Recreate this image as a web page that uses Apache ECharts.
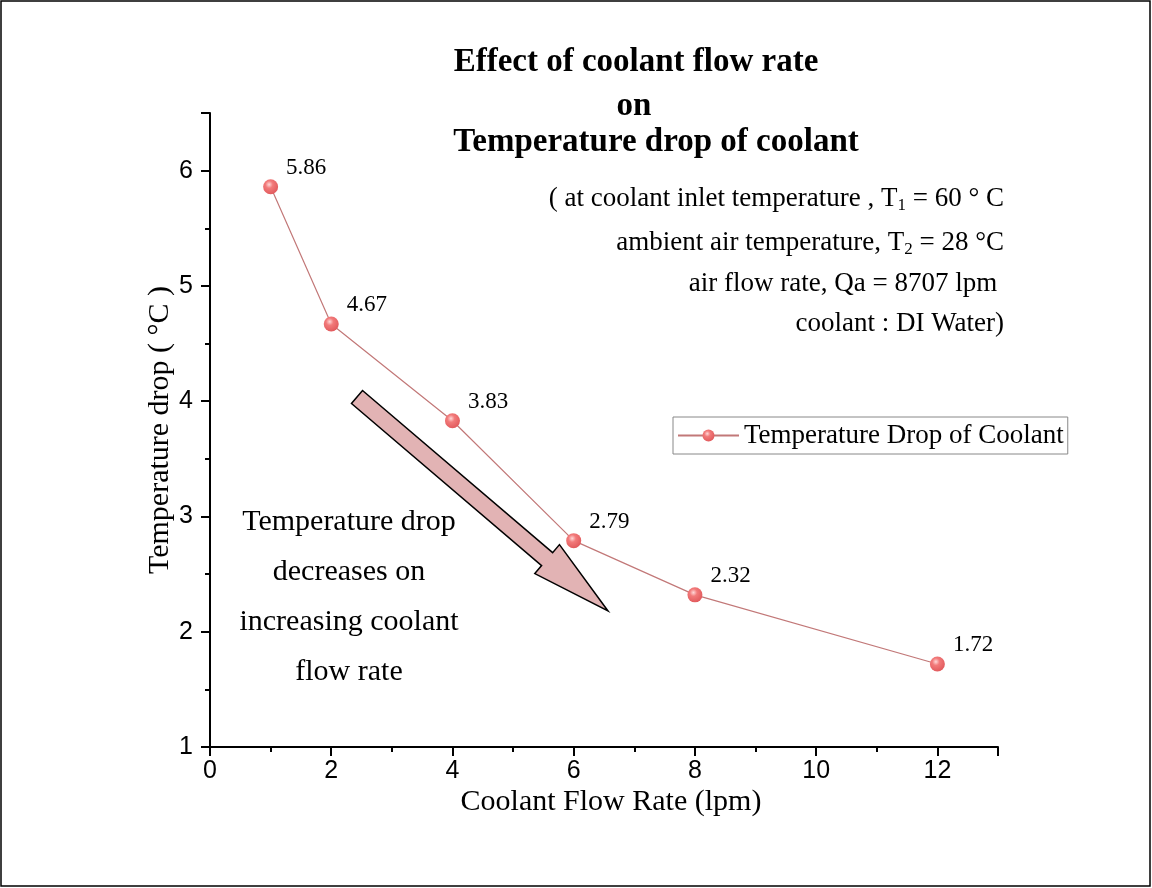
<!DOCTYPE html>
<html><head><meta charset="utf-8">
<script src="https://cdn.jsdelivr.net/npm/echarts@6/dist/echarts.min.js"></script>
<style>html,body{margin:0;padding:0;background:#fff}#c{width:1152px;height:888px}</style>
</head><body><div id="c"></div>
<script>
const flowRates = [1, 2, 4, 6, 8, 12];
const tempDrops = [5.86, 4.67, 3.83, 2.79, 2.32, 1.72];
const seriesName = 'Temperature Drop of Coolant';
const titleLines = ['Effect of coolant flow rate', 'on', 'Temperature drop of coolant'];
const xName = 'Coolant Flow Rate (lpm)';
const yName = 'Temperature drop ( \u00B0C )';
const noteLines = ['Temperature drop', 'decreases on', 'increasing coolant', 'flow rate'];

const serif = '"Liberation Serif", "Times New Roman", serif';
const sans = '"Liberation Sans", Arial, sans-serif';
const chart = echarts.init(document.getElementById('c'));

const ball = {
  type: 'radial', x: 0.4, y: 0.35, r: 0.7,
  colorStops: [{offset: 0, color: '#ffd8d8'}, {offset: 0.35, color: '#f27a7a'}, {offset: 1, color: '#e0575a'}]
};

// arrow polygon (annotation)
const ax0 = 357, ay0 = 397, ax1 = 608, ay1 = 611;
const L = Math.hypot(ax1 - ax0, ay1 - ay0);
const ux = (ax1 - ax0) / L, uy = (ay1 - ay0) / L, px = -uy, py = ux;
const sw = 8.5, hw = 19, hl = 80;
const bx = ax1 - ux * hl, by = ay1 - uy * hl;
const arrowPts = [
  [ax0 + px * sw, ay0 + py * sw], [bx + px * sw, by + py * sw], [bx + px * hw, by + py * hw],
  [ax1, ay1], [bx - px * hw, by - py * hw], [bx - px * sw, by - py * sw], [ax0 - px * sw, ay0 - py * sw]
];

const graphics = [
  {type: 'rect', shape: {x: 1, y: 1, width: 1149, height: 885}, style: {fill: null, stroke: '#000', lineWidth: 1.5}, silent: true},
  {type: 'polygon', shape: {points: arrowPts}, style: {fill: '#e2b3b4', stroke: '#000', lineWidth: 1.5}},
];
const titleX = [636, 634, 656], titleY = [62, 106, 142];
titleLines.forEach((t, i) => graphics.push({
  type: 'text', x: titleX[i], y: titleY[i],
  style: {text: t, font: 'bold 33px ' + serif, fill: '#000', textAlign: 'center', textVerticalAlign: 'middle'}
}));
noteLines.forEach((t, i) => graphics.push({
  type: 'text', x: 349, y: 522 + i * 50,
  style: {text: t, font: '30px ' + serif, fill: '#000', textAlign: 'center', textVerticalAlign: 'middle'}
}));
// condition annotations (rich text for subscripts)
const rich = {
  n: {fontFamily: serif, fontSize: 27, color: '#000', lineHeight: 30},
  s: {fontFamily: serif, fontSize: 17, color: '#000', lineHeight: 30, padding: [14, 0, 0, 0]}
};
const conds = [
  '{n|( at coolant inlet temperature , T}{s|1}{n| = 60 \u00B0 C}',
  '{n|ambient air temperature, T}{s|2}{n| = 28 \u00B0C}',
  '{n|air flow rate, Qa = 8707 lpm }',
  '{n|coolant : DI Water)}'
];
const condY = [199, 243, 284, 324];
conds.forEach((t, i) => graphics.push({
  type: 'text', x: 1004, y: condY[i],
  style: {text: t, rich: rich, textAlign: 'right', textVerticalAlign: 'middle'}
}));

chart.setOption({
  animation: false,
  backgroundColor: '#fff',
  grid: {left: 210, right: 154, top: 113, bottom: 141},
  legend: {
    show: true, data: [seriesName], left: 673, top: 417,
    padding: [5, 4, 5, 4], borderColor: '#888', borderWidth: 1,
    itemWidth: 61, itemHeight: 15, itemGap: 4,
    textStyle: {fontFamily: serif, fontSize: 27, color: '#000', lineHeight: 27}
  },
  xAxis: {
    type: 'value', min: 0, max: 13, interval: 2,
    name: xName, nameLocation: 'middle', nameGap: 40, nameMoveOverlap: false,
    nameTextStyle: {fontFamily: serif, fontSize: 30, color: '#000', padding: [0, 0, 0, 14]},
    axisLine: {onZero: false, lineStyle: {color: '#000', width: 2}},
    axisTick: {show: true, inside: false, length: 9, lineStyle: {color: '#000', width: 2}},
    minorTick: {show: true, splitNumber: 2, length: 5, lineStyle: {color: '#000', width: 2}},
    axisLabel: {fontFamily: sans, fontSize: 25, color: '#000', margin: 12, showMaxLabel: false},
    splitLine: {show: false}
  },
  yAxis: {
    type: 'value', min: 1, max: 6.5, interval: 1,
    name: yName, nameLocation: 'middle', nameGap: 35, nameMoveOverlap: false,
    nameTextStyle: {fontFamily: serif, fontSize: 30, color: '#000'},
    axisLine: {show: true, lineStyle: {color: '#000', width: 2}},
    axisTick: {show: true, inside: false, length: 9, lineStyle: {color: '#000', width: 2}},
    minorTick: {show: true, splitNumber: 2, length: 5, lineStyle: {color: '#000', width: 2}},
    axisLabel: {fontFamily: sans, fontSize: 25, color: '#000', margin: 17, showMaxLabel: false},
    splitLine: {show: false}
  },
  series: [{
    name: seriesName, type: 'line',
    data: flowRates.map((x, i) => [x, tempDrops[i]]),
    symbol: 'circle', symbolSize: 15,
    itemStyle: {color: ball, borderWidth: 0},
    lineStyle: {color: '#c27878', width: 1.2},
    label: {show: true, position: 'right', offset: [3, -19], formatter: p => p.value[1].toFixed(2),
      fontFamily: serif, fontSize: 23, color: '#000'}
  }],
  graphic: graphics
});
</script></body></html>
